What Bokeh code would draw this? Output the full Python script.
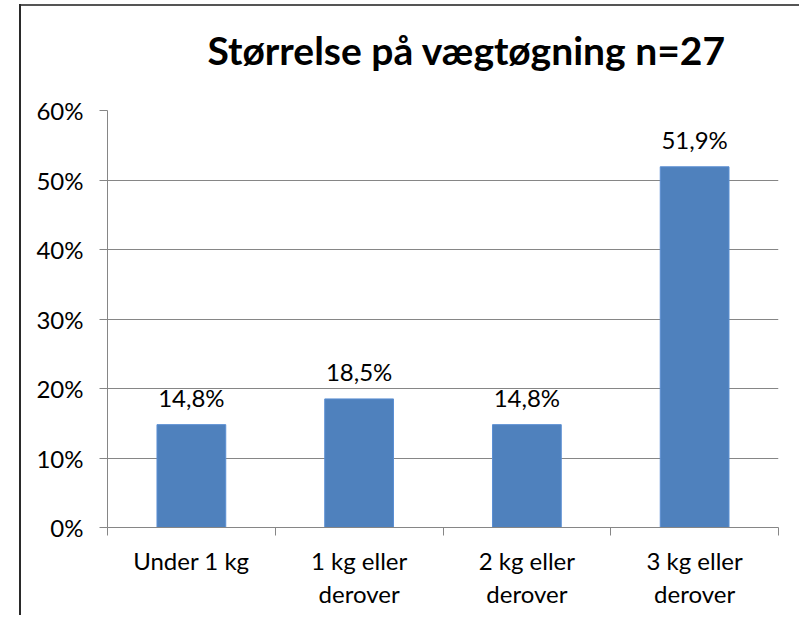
import numpy as np
from bokeh.plotting import figure
from bokeh.models import (Range1d, FixedTicker, NumeralTickFormatter, ColumnDataSource,
                          LabelSet, Title)
from bokeh.core.properties import value
from bokeh.embed import file_html
from bokeh.resources import INLINE

# ---- data ----
categories = ["Under 1 kg", "1 kg eller\nderover", "2 kg eller\nderover", "3 kg eller\nderover"]
values = [0.148, 0.185, 0.148, 0.519]
value_labels = ["14,8%", "18,5%", "14,8%", "51,9%"]
y_ticks = [0.0, 0.1, 0.2, 0.3, 0.4, 0.5, 0.6]
title_text = "Størrelse på vægtøgning n=27"

FONT = "Lato"
GRID = "#868686"

xs = np.arange(len(categories)) + 0.5
src = ColumnDataSource(dict(x=xs, top=values, lab=value_labels))

p = figure(width=799, height=615, frame_width=671, frame_height=417,
           x_range=Range1d(0, len(categories)), y_range=Range1d(0, 0.6),
           output_backend="svg", toolbar_location=None,
           min_border_left=107, min_border_top=110, min_border_right=21, min_border_bottom=88)
p.outline_line_color = None
p.background_fill_color = "white"
p.border_fill_color = None

# chart-area border (left and top edges) drawn as the element background
p.styles = {
    "background-color": "white",
    "background-image": "linear-gradient(#2a2a2a, #2a2a2a), linear-gradient(#555555, #555555)",
    "background-size": "2px 611px, 780px 2px",
    "background-position": "19px 4px, 19px 4px",
    "background-repeat": "no-repeat",
}

p.vbar(x="x", top="top", width=0.41, bottom=0, source=src,
       fill_color="#4F81BD", line_color="#5b8fd3", line_width=1)

# y axis
p.yaxis.ticker = FixedTicker(ticks=y_ticks)
p.yaxis.formatter = NumeralTickFormatter(format="0%")
p.yaxis.axis_line_color = GRID
p.yaxis.major_tick_line_color = GRID
p.yaxis.major_tick_out = 8
p.yaxis.major_tick_in = 0
p.yaxis.minor_tick_line_color = None
p.yaxis.major_label_text_font = FONT
p.yaxis.major_label_text_font_size = "24px"
p.yaxis.major_label_text_color = "black"
p.yaxis.major_label_standoff = 16

# x axis: labels at centres, ticks at boundaries (minor ticks)
p.xaxis.ticker = FixedTicker(ticks=list(xs), minor_ticks=list(range(len(categories) + 1)))
p.xaxis.major_label_overrides = {float(x): c for x, c in zip(xs, categories)}
p.xaxis.axis_line_color = GRID
p.xaxis.major_tick_line_color = None
p.xaxis.major_tick_out = 8
p.xaxis.major_tick_in = 0
p.xaxis.minor_tick_line_color = GRID
p.xaxis.minor_tick_out = 8
p.xaxis.minor_tick_in = 0
p.xaxis.major_label_text_font = FONT
p.xaxis.major_label_text_font_size = "24px"
p.xaxis.major_label_text_color = "black"
p.xaxis.major_label_standoff = 10
p.xaxis.major_label_text_line_height = 1.15

p.xgrid.grid_line_color = None
p.ygrid.ticker = FixedTicker(ticks=y_ticks)
p.ygrid.grid_line_color = GRID
p.ygrid.grid_line_width = 1

labels = LabelSet(x="x", y="top", text="lab", source=src, text_align="center",
                  text_baseline="alphabetic", y_offset=18,
                  text_font=value(FONT), text_font_size=value("24px"), text_color="black")
p.add_layout(labels)

# spacer panel between the frame and the title
spacer = Title(text=" ", text_font=FONT, text_font_size="10px", standoff=24)
p.add_layout(spacer, "above")

title = Title(text=title_text, align="left", offset=100, standoff=0,
              text_font=FONT, text_font_size="39px", text_font_style="bold", text_color="black")
p.add_layout(title, "above")

open("out.html", "w").write(file_html(p, INLINE))
